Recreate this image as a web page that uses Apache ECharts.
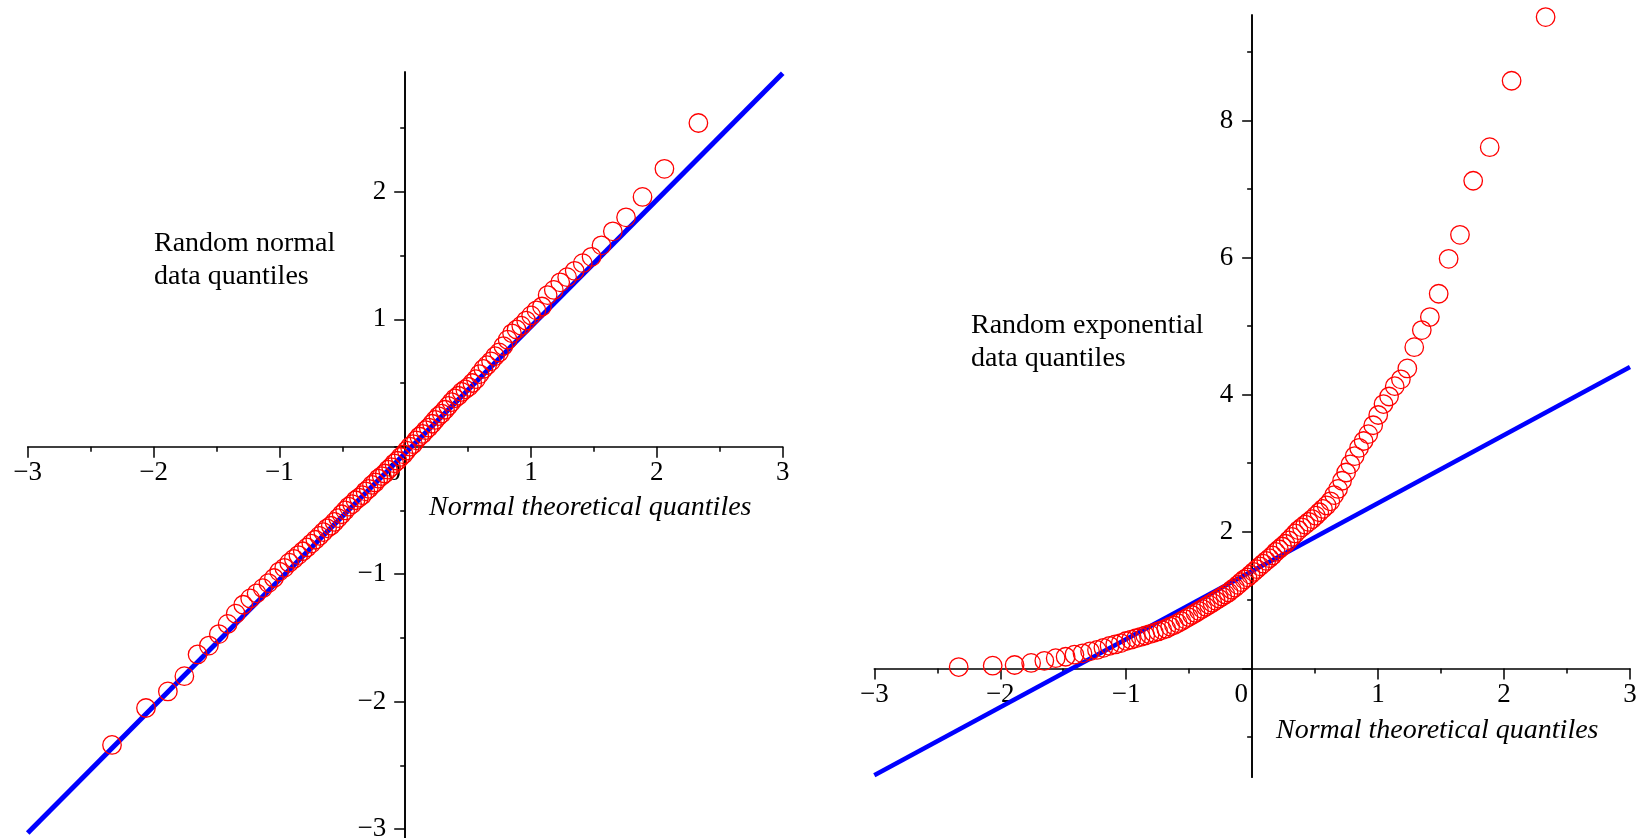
<!DOCTYPE html>
<html>
<head>
<meta charset="utf-8">
<script src="https://cdn.jsdelivr.net/npm/echarts@6/dist/echarts.min.js"></script>
<style>html,body{margin:0;padding:0;background:#fff}#c{width:1641px;height:838px}</style>
</head>
<body>
<div id="c"></div>
<script>
// Normal theoretical quantiles (x positions)
const theoreticalQuantiles = [-2.33,-2.06,-1.886,-1.755,-1.650,-1.560,-1.481,-1.411,-1.347,-1.287,-1.232,-1.181,-1.132,-1.087,-1.043,-1.001,-0.961,-0.922,-0.885,-0.849,-0.814,-0.780,-0.746,-0.714,-0.682,-0.651,-0.621,-0.591,-0.562,-0.533,-0.505,-0.477,-0.449,-0.422,-0.395,-0.368,-0.342,-0.316,-0.290,-0.264,-0.238,-0.213,-0.187,-0.162,-0.137,-0.112,-0.087,-0.062,-0.037,-0.012,
0.012,0.037,0.062,0.087,0.112,0.137,0.162,0.187,0.213,0.238,0.264,0.290,0.316,0.342,0.368,0.395,0.422,0.449,0.477,0.505,0.533,0.562,0.591,0.621,0.651,0.682,0.714,0.746,0.780,0.814,0.849,0.885,0.922,0.961,1.001,1.043,1.087,1.132,1.181,1.232,1.287,1.347,1.411,1.481,1.560,1.650,1.755,1.886,2.06,2.33];

// Random normal data quantiles
const normalData = [-2.34,-2.05,-1.92,-1.80,-1.63,-1.56,-1.47,-1.39,-1.31,-1.24,-1.19,-1.15,-1.11,-1.07,-1.03,-0.98,-0.95,-0.91,-0.88,-0.85,-0.82,-0.79,-0.76,-0.73,-0.70,-0.67,-0.64,-0.62,-0.59,-0.56,-0.53,-0.50,-0.47,-0.45,-0.42,-0.40,-0.38,-0.35,-0.33,-0.30,-0.28,-0.25,-0.23,-0.21,-0.18,-0.16,-0.13,-0.11,-0.08,-0.06,
-0.03,0.00,0.02,0.05,0.08,0.10,0.13,0.15,0.18,0.21,0.24,0.26,0.29,0.32,0.35,0.38,0.40,0.43,0.45,0.47,0.50,0.53,0.57,0.61,0.64,0.67,0.71,0.74,0.79,0.84,0.89,0.92,0.95,0.99,1.03,1.07,1.10,1.19,1.23,1.29,1.33,1.38,1.44,1.49,1.58,1.69,1.80,1.96,2.18,2.54];

// Random exponential data quantiles
const expData = [0.02,0.04,0.05,0.08,0.11,0.15,0.17,0.20,0.22,0.25,0.27,0.30,0.33,0.35,0.37,0.40,0.42,0.44,0.46,0.48,0.50,0.52,0.54,0.56,0.58,0.61,0.63,0.66,0.69,0.72,
0.75,0.78,0.81,0.84,0.87,0.90,0.93,0.96,0.99,1.02,1.05,1.08,1.11,1.15,1.18,1.22,1.26,1.30,1.33,1.37,
1.41,1.45,1.49,1.53,1.57,1.61,1.65,1.70,1.74,1.78,1.82,1.87,1.92,1.97,2.02,2.06,2.10,2.14,2.18,2.23,
2.28,2.33,2.38,2.44,2.53,2.62,2.74,2.86,2.98,3.10,3.22,3.32,3.42,3.55,3.70,3.86,3.97,4.12,4.22,4.38,
4.69,4.94,5.13,5.47,5.98,6.33,7.12,7.61,8.58,9.51];

// Reference lines (end points)
const refLineX = [-3, 3];
const normalLineY = [-3.03, 2.93];
const expLineY = [-1.56, 4.40];

// Axis ranges and tick values
const xRange = [-3, 3];
const normalYRange = [-3.07, 2.94];
const expYRange = [-1.59, 9.54];
const normalYMajorTicks = [-3, -2, -1, 0, 1, 2];
const normalYMinorTicks = [-2.5, -1.5, -0.5, 0.5, 1.5, 2.5];
const normalYLabels = [-3, -2, -1, 1, 2];
const expYMajorTicks = [0, 2, 4, 6, 8];
const expYMinorTicks = [-1, 1, 3, 5, 7, 9];
const expYLabels = [2, 4, 6, 8];

const FONT = 'Liberation Serif';
const TICK_FS = 27;

const grids = [
  { left: 27.7, top: 72, width: 755, height: 766 },
  { left: 874.3, top: 15, width: 755.7, height: 762.3 }
];

function fmt(v) {
  if (v === 0) return '{z|0}';
  return v < 0 ? '\u2212' + Math.abs(v) : String(v);
}

// offset that puts an axis at the zero of the crossing axis
function zeroOffset(range, len) { return -(0 - range[0]) / (range[1] - range[0]) * len; }

function xAxisCfg(gridIndex, yRange) {
  return {
    type: 'value', gridIndex: gridIndex, position: 'bottom', min: xRange[0], max: xRange[1], interval: 1,
    offset: zeroOffset(yRange, grids[gridIndex].height),
    axisLine: { show: true, onZero: false, lineStyle: { color: '#000', width: 1.6 } },
    axisTick: { show: true, length: 11, lineStyle: { color: '#000', width: 1.5 } },
    minorTick: { show: true, splitNumber: 2, length: 5, lineStyle: { color: '#000', width: 1.5 } },
    splitLine: { show: false }, minorSplitLine: { show: false },
    axisLabel: {
      margin: 13, color: '#000', fontFamily: FONT, fontSize: TICK_FS, formatter: fmt,
      rich: { z: { padding: [0, 22, 6, 0], fontFamily: FONT, fontSize: TICK_FS, color: '#000' } }
    }
  };
}

function yAxisCfg(gridIndex, range, ticks, labels, len) {
  return {
    type: 'value', gridIndex: gridIndex, position: 'left', min: range[0], max: range[1],
    offset: zeroOffset(xRange, grids[gridIndex].width),
    axisLine: { show: true, onZero: false, lineStyle: { color: '#000', width: 1.6 } },
    axisTick: { show: true, length: len, customValues: ticks, lineStyle: { color: '#000', width: 1.5 } },
    splitLine: { show: false },
    axisLabel: labels ? {
      show: true, customValues: labels, margin: 19, color: '#000', fontFamily: FONT, fontSize: TICK_FS,
      formatter: fmt
    } : { show: false }
  };
}

const titleStyle = { fontFamily: FONT, fontSize: 28, fontWeight: 'normal', color: '#000', lineHeight: 33 };
const italicStyle = { fontFamily: FONT, fontSize: 28, fontWeight: 'normal', fontStyle: 'italic', color: '#000', lineHeight: 28 };

function pairs(xs, ys) { return xs.map(function (x, i) { return [x, ys[i]]; }); }

const scatterStyle = {
  type: 'scatter', symbol: 'circle', symbolSize: 18.5, clip: false, z: 3,
  itemStyle: { color: 'rgba(0,0,0,0)', borderColor: '#ff0000', borderWidth: 1.3, opacity: 1 },
  emphasis: { disabled: true }
};

const option = {
  animation: false,
  backgroundColor: '#ffffff',
  title: [
    { text: 'Random normal\ndata quantiles', left: 154, top: 227, padding: 0, textStyle: titleStyle },
    { text: 'Normal theoretical quantiles', left: 429, top: 494, padding: 0, textStyle: italicStyle },
    { text: 'Random exponential\ndata quantiles', left: 971, top: 309, padding: 0, textStyle: titleStyle },
    { text: 'Normal theoretical quantiles', left: 1276, top: 717, padding: 0, textStyle: italicStyle }
  ],
  grid: grids.map(function (g) {
    return Object.assign({ outerBoundsMode: 'none', containLabel: false }, g);
  }),
  xAxis: [xAxisCfg(0, normalYRange), xAxisCfg(1, expYRange)],
  yAxis: [
    yAxisCfg(0, normalYRange, normalYMajorTicks, normalYLabels, 11),
    yAxisCfg(0, normalYRange, normalYMinorTicks, null, 5),
    yAxisCfg(1, expYRange, expYMajorTicks, expYLabels, 10),
    yAxisCfg(1, expYRange, expYMinorTicks, null, 5)
  ],
  series: [
    { type: 'line', xAxisIndex: 0, yAxisIndex: 0, data: pairs(refLineX, normalLineY), symbol: 'none', z: 2,
      lineStyle: { color: '#0000ff', width: 5 }, emphasis: { disabled: true } },
    Object.assign({}, scatterStyle, { xAxisIndex: 0, yAxisIndex: 0, data: pairs(theoreticalQuantiles, normalData) }),
    { type: 'line', xAxisIndex: 1, yAxisIndex: 2, data: pairs(refLineX, expLineY), symbol: 'none', z: 2,
      lineStyle: { color: '#0000ff', width: 4.5 }, emphasis: { disabled: true } },
    Object.assign({}, scatterStyle, { xAxisIndex: 1, yAxisIndex: 2, data: pairs(theoreticalQuantiles, expData) })
  ]
};

const chart = echarts.init(document.getElementById('c'), null, { renderer: 'canvas' });
chart.setOption(option);
</script>
</body>
</html>
